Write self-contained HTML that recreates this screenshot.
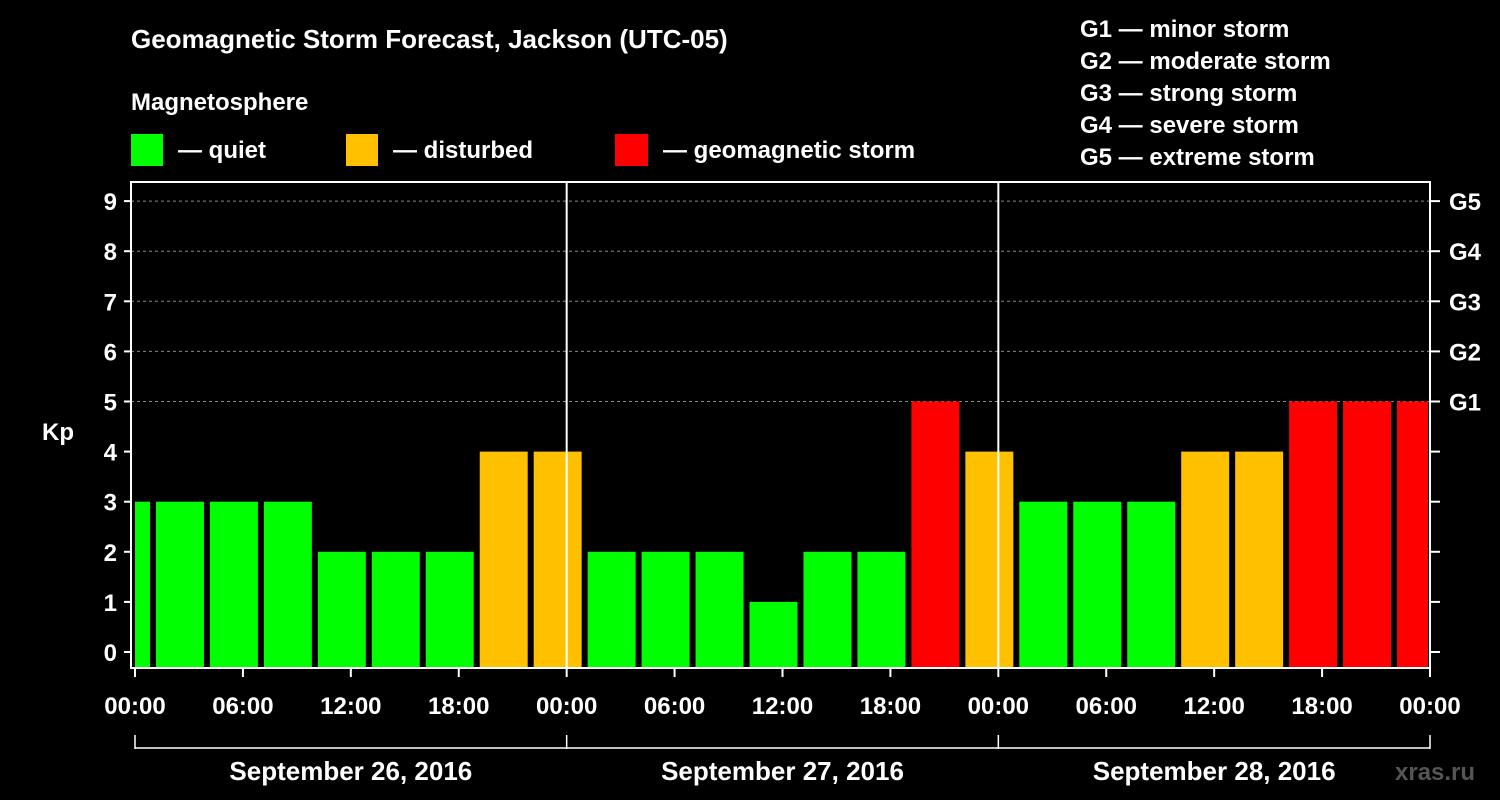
<!DOCTYPE html>
<html><head><meta charset="utf-8"><style>
html,body{margin:0;padding:0;background:#000;}
svg{display:block;font-family:"Liberation Sans",Arial,sans-serif;font-weight:bold;}
</style></head><body>
<svg id="chart" width="1500" height="800" viewBox="0 0 1500 800">
<rect width="1500" height="800" fill="#000"/>
<text x="131" y="48" fill="#fff" font-size="26">Geomagnetic Storm Forecast, Jackson (UTC-05)</text>
<text x="131" y="110" fill="#fff" font-size="24">Magnetosphere</text>
<g><rect x="131" y="134" width="32" height="32" fill="#00ff00"/><text x="178" y="158" fill="#fff" font-size="24">— quiet</text></g>
<g><rect x="346" y="134" width="32" height="32" fill="#ffc000"/><text x="393" y="158" fill="#fff" font-size="24">— disturbed</text></g>
<g><rect x="615" y="134" width="33" height="32" fill="#ff0000"/><text x="663" y="158" fill="#fff" font-size="24">— geomagnetic storm</text></g>
<g fill="#fff" font-size="24">
<text x="1080" y="37">G1 — minor storm</text>
<text x="1080" y="69">G2 — moderate storm</text>
<text x="1080" y="101">G3 — strong storm</text>
<text x="1080" y="133">G4 — severe storm</text>
<text x="1080" y="165">G5 — extreme storm</text>
</g>
<text x="42" y="440" fill="#fff" font-size="24">Kp</text>
<text x="1395" y="780" fill="#555" font-size="24">xras.ru</text>
<g id="plot"></g>
</svg>
<script>
const kpValues = [3,3,3,3,2,2,2,4,4,2,2,2,1,2,2,5,4,3,3,3,4,4,5,5,5];
const yTicks = [0,1,2,3,4,5,6,7,8,9];
const gLabels = ["G1","G2","G3","G4","G5"];
const xTickLabels = ["00:00","06:00","12:00","18:00","00:00","06:00","12:00","18:00","00:00","06:00","12:00","18:00","00:00"];
const dayLabels = ["September 26, 2016","September 27, 2016","September 28, 2016"];

const NS="http://www.w3.org/2000/svg";
const plot=document.getElementById('plot');
const L=131,R=1430,T=182,B=668,X0=135,HOURS=72;
const xs=h=>X0+(R-X0)*h/HOURS;
const ys=v=>652-v*50.1;
function mk(tag,attrs,parent){const e=document.createElementNS(NS,tag);for(const k in attrs)e.setAttribute(k,attrs[k]);(parent||plot).appendChild(e);return e;}
function col(v){return v>=5?"#ff0000":v>=4?"#ffc000":"#00ff00";}

// grid
for(let v=5;v<=9;v++){const g=mk('line',{x1:L,x2:R,y1:ys(v),y2:ys(v),stroke:'#888','stroke-dasharray':'3,3','stroke-width':1});

}
// bars
kpValues.forEach((v,i)=>{
  const h0=-2+3*i,h1=h0+3;
  let a=xs(Math.max(h0,0)),b=xs(Math.min(h1,HOURS));
  let x1=h0<0?a:a+3, x2=h1>HOURS?b-2:b-3;
  const r=mk('rect',{x:x1,y:ys(v),width:x2-x1,height:B-ys(v),fill:col(v)});
  
  
});
// day separators
[24,48].forEach(h=>{const l=mk('line',{x1:xs(h),x2:xs(h),y1:T,y2:B,stroke:'#fff','stroke-width':2});

});
// frame
const fr=mk('rect',{x:L,y:T,width:R-L,height:B-T,fill:'none',stroke:'#fff','stroke-width':2});


// y ticks
yTicks.forEach(v=>{
  mk('line',{x1:L-7,x2:L,y1:ys(v),y2:ys(v),stroke:'#fff','stroke-width':2});
  mk('line',{x1:R,x2:R+10,y1:ys(v),y2:ys(v),stroke:'#fff','stroke-width':2});
  const t=mk('text',{x:L-14,y:ys(v)+9,fill:'#fff','font-size':24,'text-anchor':'end'});t.textContent=v;
  
  
});
gLabels.forEach((g,i)=>{const t=mk('text',{x:1449,y:ys(5+i)+9,fill:'#fff','font-size':24});t.textContent=g;

});
// x ticks
xTickLabels.forEach((s,i)=>{const x=xs(i*6);
  mk('line',{x1:x,x2:x,y1:B,y2:B+9,stroke:'#fff','stroke-width':2});
  const t=mk('text',{x:x,y:714,fill:'#fff','font-size':24,'text-anchor':'middle'});t.textContent=s;
  
  
});
// day brackets
mk('line',{x1:xs(0),x2:xs(72),y1:748,y2:748,stroke:'#fff','stroke-width':1.5});
[0,24,48,72].forEach(h=>mk('line',{x1:xs(h),x2:xs(h),y1:735,y2:749,stroke:'#fff','stroke-width':1.5}));
dayLabels.forEach((d,i)=>{const t=mk('text',{x:xs(i*24+12),y:780,fill:'#fff','font-size':26,'text-anchor':'middle'});t.textContent=d;

});
</script>
</body></html>
